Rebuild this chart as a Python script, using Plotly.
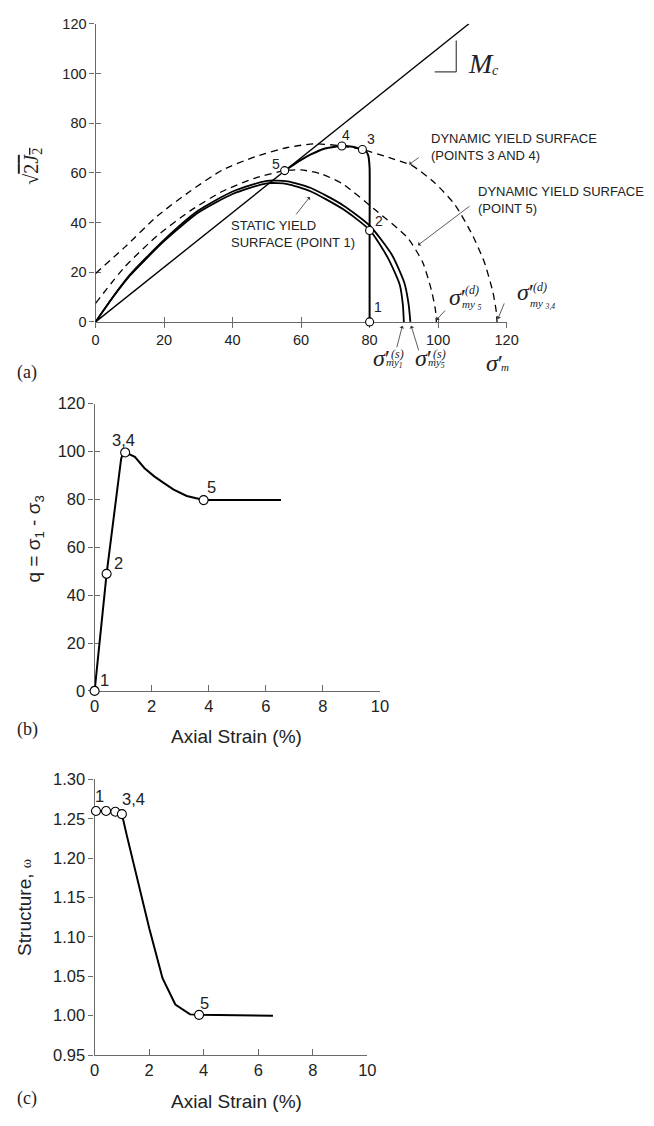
import plotly.graph_objects as go

# ---------------- Panel (a) data ----------------
mc_x = [0, 109]
mc_y = [0, 120]

static1_x = [0, 5, 10, 20, 30, 40, 50, 56, 62.7, 72.2, 80, 85.4, 88.8, 89.7, 90]
static1_y = [0, 9.8, 18.6, 32.5, 44, 51.5, 55.8, 55.5, 52.6, 45.4, 37, 25.6, 15, 7, 0]

static5_x = [0, 5, 10, 20, 30, 40, 50, 56, 62.7, 72.2, 80, 86.5, 90.2, 91.4, 91.9]
static5_y = [0, 9.9, 18.9, 33, 44.8, 52.5, 56.8, 56.6, 54, 47, 38.8, 27, 15.5, 7, 0]

dyn5_x = [0, 8.6, 18.1, 27.6, 37.1, 46.6, 55.2, 60, 66, 72.2, 81.7, 91, 95.5, 98, 99.2, 99.5]
dyn5_y = [7.5, 22.3, 34.8, 44.7, 52.6, 57.9, 60.9, 61.2, 59.5, 55.5, 45, 34, 24, 13, 5, 0]

dyn34_x = [0, 8.6, 18.1, 27.6, 37.1, 46.6, 56, 64, 71.9, 77.9, 86.4, 92.3, 99, 105, 110, 113.5, 116, 117, 117.2]
dyn34_y = [19.5, 30.2, 42.7, 52.6, 61.2, 66.5, 70.2, 71.7, 70.8, 69.4, 65.8, 63, 56, 47, 35, 24, 12, 4, 0]

path_x = [80, 80, 80, 79.6, 78.8, 77.9, 75, 71.9, 67, 63, 60, 55.2]
path_y = [0, 36.8, 62, 67, 69, 69.4, 70.5, 70.8, 69.8, 67.5, 65.2, 60.9]

pts_a_x = [80, 80, 77.9, 71.9, 55.2]
pts_a_y = [0, 36.8, 69.4, 70.8, 60.9]
pts_a_lbl = ["1", "2", "3", "4", "5"]

# ---------------- Panel (b) data ----------------
q_x = [0, 0.42, 0.93, 1.0, 1.07, 1.41, 1.75, 2.09, 2.43, 2.77, 3.23, 3.69, 3.82, 6.53]
q_y = [0, 48.9, 97, 99.3, 99.6, 97.8, 93.0, 89.6, 86.8, 84.1, 81.4, 80.0, 79.7, 79.7]
pts_b_x = [0, 0.42, 1.07, 3.82]
pts_b_y = [0, 48.9, 99.6, 79.7]
pts_b_lbl = ["1", "2", "3,4", "5"]

# ---------------- Panel (c) data ----------------
w_x = [0.05, 0.42, 0.76, 1.0, 1.18, 1.48, 2.01, 2.49, 2.96, 3.5, 3.83, 6.54]
w_y = [1.26, 1.26, 1.259, 1.256, 1.229, 1.187, 1.110, 1.0475, 1.0141, 1.0016, 1.001, 1.0]
pts_c_x = [0.05, 0.42, 0.76, 1.0, 3.83]
pts_c_y = [1.26, 1.26, 1.259, 1.256, 1.001]
pts_c_lbl = ["1", "", "", "3,4", "5"]

W, H = 654, 1126
SANS = "Liberation Sans, Arial, sans-serif"
SERIF = "Liberation Serif, Times New Roman, serif"
AX = "#6a6a6a"
TXT = "#222222"

fig = go.Figure()

def line(x, y, xa, ya, width=1.6, dash="solid", color="black", shape="spline", smooth=0.6):
    ln = dict(color=color, width=width, dash=dash, shape=shape)
    if shape == "spline":
        ln["smoothing"] = smooth
    fig.add_trace(go.Scatter(x=x, y=y, xaxis=xa, yaxis=ya, mode="lines", line=ln,
                             cliponaxis=False, showlegend=False, hoverinfo="skip"))

def markers(x, y, xa, ya, size=8):
    fig.add_trace(go.Scatter(x=x, y=y, xaxis=xa, yaxis=ya, mode="markers",
                             marker=dict(symbol="circle", size=size, color="white",
                                         line=dict(color="black", width=1.1)),
                             cliponaxis=False, showlegend=False, hoverinfo="skip"))

# Panel (a)
line(mc_x, mc_y, "x", "y", width=1.4, shape="linear")
line(static1_x, static1_y, "x", "y", width=1.8)
line(static5_x, static5_y, "x", "y", width=1.8)
line(dyn5_x, dyn5_y, "x", "y", width=1.3, dash="7px,5px")
line(dyn34_x, dyn34_y, "x", "y", width=1.3, dash="7px,5px")
line(path_x, path_y, "x", "y", width=2.0, smooth=0.4)
markers(pts_a_x, pts_a_y, "x", "y")

# Panel (b)
line(q_x, q_y, "x2", "y2", width=2.0, shape="linear")
markers(pts_b_x, pts_b_y, "x2", "y2", size=9)

# Panel (c)
line(w_x, w_y, "x3", "y3", width=2.0, shape="linear")
markers(pts_c_x, pts_c_y, "x3", "y3", size=9)

# invisible traces for overlay (crossing-tick) axes
fig.add_trace(go.Scatter(x=[None], y=[None], xaxis="x4", yaxis="y4", showlegend=False))
fig.add_trace(go.Scatter(x=[None], y=[None], xaxis="x5", yaxis="y5", showlegend=False))

def px2p(px, py):
    return px / W, 1 - py / H

def dom_x(a, b):
    return [a / W, b / W]

def dom_y(top, bottom):
    return [1 - bottom / H, 1 - top / H]

axis_common = dict(showline=True, linecolor=AX, linewidth=1.3, tickcolor=AX, tickwidth=1.2,
                   showgrid=False, zeroline=False, mirror=False, layer="below traces")
over_common = dict(showticklabels=False, showline=False, showgrid=False, zeroline=False,
                   tickcolor=AX, tickwidth=1.2, layer="below traces")

fig.update_layout(
    width=W, height=H, margin=dict(l=0, r=0, t=0, b=0),
    paper_bgcolor="white", plot_bgcolor="white", showlegend=False,
    xaxis=dict(domain=dom_x(93, 515), range=[0, 120], anchor="y", tickvals=[0, 20, 40, 60, 80, 100, 120],
               ticks="outside", ticklen=5, tickfont=dict(family=SANS, size=14.5, color=TXT), **axis_common),
    yaxis=dict(domain=dom_y(15, 318), range=[0, 120], anchor="x", tickvals=[0, 20, 40, 60, 80, 100, 120],
               ticks="outside", ticklen=5, tickfont=dict(family=SANS, size=14.5, color=TXT), **axis_common),
    xaxis4=dict(overlaying="x", anchor="y4", range=[0, 120], tickvals=[0, 20, 40, 60, 80, 100, 120],
                ticks="inside", ticklen=5, **over_common),
    yaxis4=dict(overlaying="y", anchor="x4", range=[0, 120], tickvals=[0, 20, 40, 60, 80, 100, 120],
                ticks="inside", ticklen=5, **over_common),
    xaxis2=dict(domain=dom_x(92, 385), range=[0, 10], anchor="y2", tickvals=[0, 2, 4, 6, 8, 10],
                ticks="inside", ticklen=6, tickfont=dict(family=SANS, size=16.5, color=TXT), **axis_common),
    yaxis2=dict(domain=dom_y(401, 693), range=[0, 120], anchor="x2", tickvals=[0, 20, 40, 60, 80, 100, 120],
                ticks="outside", ticklen=5, tickfont=dict(family=SANS, size=16.5, color=TXT), **axis_common),
    xaxis5=dict(overlaying="x2", anchor="y5", range=[0, 10], ticks="", **over_common),
    yaxis5=dict(overlaying="y2", anchor="x5", range=[0, 120], tickvals=[0, 20, 40, 60, 80, 100, 120],
                ticks="inside", ticklen=5, **over_common),
    xaxis3=dict(domain=dom_x(92, 372), range=[0, 10], anchor="y3", tickvals=[0, 2, 4, 6, 8, 10],
                ticks="inside", ticklen=6, tickfont=dict(family=SANS, size=16.5, color=TXT), **axis_common),
    yaxis3=dict(domain=dom_y(783, 1063), range=[0.95, 1.30], anchor="x3",
                tickvals=[0.95, 1.0, 1.05, 1.10, 1.15, 1.20, 1.25, 1.30], tickformat=".2f",
                ticks="outside", ticklen=5, tickfont=dict(family=SANS, size=16.5, color=TXT), **axis_common),
)

ann = []

def text_at(px, py, text, size, family=SANS, xanchor="center", yanchor="middle", align="center", angle=0, color=TXT):
    x, y = px2p(px, py)
    ann.append(dict(x=x, y=y, xref="paper", yref="paper", text=text, showarrow=False,
                    font=dict(family=family, size=size, color=color), xanchor=xanchor, yanchor=yanchor,
                    align=align, textangle=angle, borderpad=0))

def arrow_px(x0, y0, x1, y1):
    # tail (x0,y0) -> head (x1,y1), page pixel coords
    hx, hy = px2p(x1, y1)
    ann.append(dict(x=hx, y=hy, ax=x0 - x1, ay=y0 - y1, xref="paper", yref="paper",
                    axref="pixel", ayref="pixel",
                    text="", showarrow=True, arrowhead=1, arrowsize=1.0, arrowwidth=0.8, arrowcolor="#333"))

# point labels
def point_labels(xs, ys, lbls, xa, ya, shifts, size):
    for xv, yv, lb, (dx, dy) in zip(xs, ys, lbls, shifts):
        if lb:
            ann.append(dict(x=xv, y=yv, xref=xa, yref=ya, text=lb, showarrow=False, xshift=dx, yshift=dy,
                            font=dict(family=SANS, size=size, color=TXT)))

point_labels(pts_a_x, pts_a_y, pts_a_lbl, "x", "y", [(8, 15), (9, 9), (9, 10), (4, 11), (-9, 7)], 14)
point_labels(pts_b_x, pts_b_y, pts_b_lbl, "x2", "y2", [(10, 11), (12, 11), (-2, 12), (8, 13)], 16.5)
point_labels(pts_c_x, pts_c_y, pts_c_lbl, "x3", "y3", [(4, 15), (0, 0), (0, 0), (12, 15), (5, 12)], 16.5)

# panel (a) text
text_at(231, 228.5, "STATIC YIELD<br>SURFACE (POINT 1)", 13, xanchor="left", align="left")
arrow_px(298, 210, 313, 191)
text_at(436, 140.5, "DYNAMIC YIELD SURFACE<br>(POINTS 3 AND 4)", 13, xanchor="left", align="left")
arrow_px(426, 150, 415, 158)
text_at(485, 194.5, "DYNAMIC YIELD SURFACE<br>(POINT 5)", 13, xanchor="left", align="left")
arrow_px(477, 200, 424, 240)

# sigma labels: glyph left edge, glyph centre y, superscript / subscript positions (page pixels)
def sigma(px, cy, sup, sub, sup_xy, sub_xy):
    text_at(px, cy - 2, "<i>σ</i>′", 24, family=SERIF, xanchor="left")
    text_at(sup_xy[0], sup_xy[1] - 1, "<i>" + sup + "</i>", 12, family=SERIF, xanchor="left")
    text_at(sub_xy[0], sub_xy[1] - 2, "<i>" + sub + "</i>", 11, family=SERIF, xanchor="left")

sigma(377, 357, "(s)", "my<sub>1</sub>", (395, 352), (390, 362))
arrow_px(402, 345, 408, 322)
sigma(420, 357, "(s)", "my<sub>5</sub>", (438, 352), (433, 362))
arrow_px(425, 348, 417, 322)
sigma(455, 295, "(d)", "my <sub>5</sub>", (471, 287), (468, 303))
arrow_px(453, 305, 443, 316)
sigma(525, 290, "(d)", "my <sub>3,4</sub>", (541, 284), (538, 302))
arrow_px(513, 298, 506, 315)
text_at(493, 360, "<i>σ</i>′", 24, family=SERIF, xanchor="left")
text_at(508, 364, "<i>m</i>", 11, family=SERIF, xanchor="left")

# M_c
text_at(474, 55, "<i>M</i>", 28, family=SERIF, xanchor="left")
text_at(499, 63, "<i>c</i>", 14, family=SERIF, xanchor="left")

# y title (a)
text_at(28, 160, "√<span style='text-decoration:overline'>2<i>J</i><sub>2</sub></span>", 20,
        family=SERIF, angle=-90)

# panel labels
text_at(23, 369, "(a)", 18, family=SERIF)
text_at(23, 732, "(b)", 18, family=SERIF)
text_at(23, 1107, "(c)", 18, family=SERIF)

# axis titles (b), (c)
text_at(31, 539, "q = σ<sub>1</sub> - σ<sub>3</sub>", 19, angle=-90)
text_at(238, 739, "Axial Strain (%)", 19)
text_at(20, 913, "Structure, <span style='font-family:Liberation Serif;font-size:14px'>ω</span>", 19, angle=-90)
text_at(238, 1110, "Axial Strain (%)", 19)

fig.update_layout(annotations=ann)

# slope-triangle marker for Mc
tri_h = dict(x0=99.0, x1=105.3, y0=100.6, y1=100.6)
tri_v = dict(x0=105.3, x1=105.3, y0=100.6, y1=113.3)
fig.update_layout(shapes=[
    dict(type="line", xref="x", yref="y", line=dict(color="#444", width=1.2), **tri_h),
    dict(type="line", xref="x", yref="y", line=dict(color="#444", width=1.2), **tri_v),
])

fig.write_html("out.html", config={"displayModeBar": False},
               post_script="document.body.style.margin='0';")
